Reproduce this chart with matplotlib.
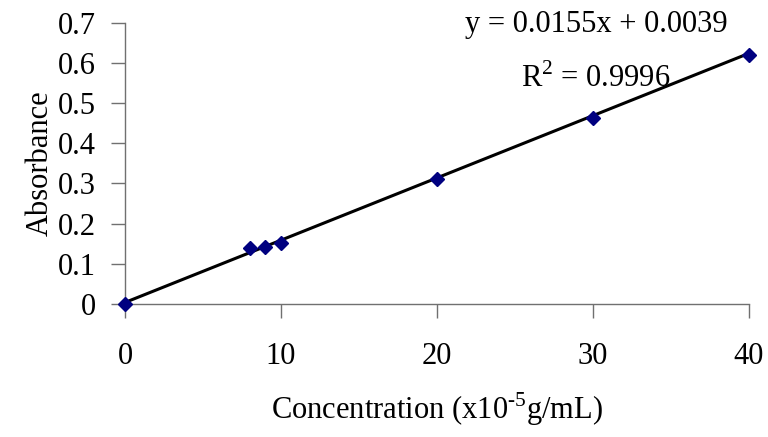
import numpy as np
import matplotlib
matplotlib.use("Agg")
import matplotlib.pyplot as plt

# calibration data
conc = [0, 8, 9, 10, 20, 30, 40]
absorb = [0.0, 0.139, 0.142, 0.152, 0.312, 0.464, 0.620]
slope = 0.0155
intercept = 0.0039
r2 = 0.9996

x_ticks = [0, 10, 20, 30, 40]
y_ticks = [0, 0.1, 0.2, 0.3, 0.4, 0.5, 0.6, 0.7]
y_tick_labels = ["0", "0.1", "0.2", "0.3", "0.4", "0.5", "0.6", "0.7"]

plt.rcParams["font.family"] = ["Liberation Serif", "DejaVu Serif"]
plt.rcParams["mathtext.fontset"] = "custom"
plt.rcParams["mathtext.rm"] = "Liberation Serif"

fs = 22
fig = plt.figure(figsize=(7.68, 4.37), dpi=100)
ax = fig.add_axes([0.1628, 0.3043, 0.8125, 0.6437])

# trend line
xf = np.array([min(conc), max(conc)])
ax.plot(xf, slope * xf + intercept, color="black", lw=2.2, zorder=2, clip_on=False)
ax.plot(conc, absorb, ls="none", marker="D", ms=7, color="#000080", zorder=3, clip_on=False)

ax.set_xlim(0, 40)
ax.set_ylim(0, 0.7)
ax.set_xticks(x_ticks)
ax.set_yticks(y_ticks)
ax.set_yticklabels(y_tick_labels)

for s in ["top", "right"]:
    ax.spines[s].set_visible(False)
for s in ["left", "bottom"]:
    ax.spines[s].set_color("#707070")
    ax.spines[s].set_linewidth(1.0)
ax.tick_params(axis="both", direction="out", length=10, width=1, color="#707070",
               labelsize=fs)
ax.tick_params(axis="x", pad=17)
ax.tick_params(axis="y", pad=11)

ax.set_ylabel("Absorbance", fontsize=fs, labelpad=2)
ax.set_xlabel(r"Concentration (x10$^{\text{-5}}$g/mL)", fontsize=fs, labelpad=14)

ax.text(0.755, 0.995, f"y = {slope}x + {intercept}", transform=ax.transAxes,
        ha="center", va="center", fontsize=fs)
ax.text(0.755, 0.80, f"R$^{{\\mathregular{{2}}}}$ = {r2}", transform=ax.transAxes,
        ha="center", va="center", fontsize=fs)

fig.savefig("out.png", dpi=100)
